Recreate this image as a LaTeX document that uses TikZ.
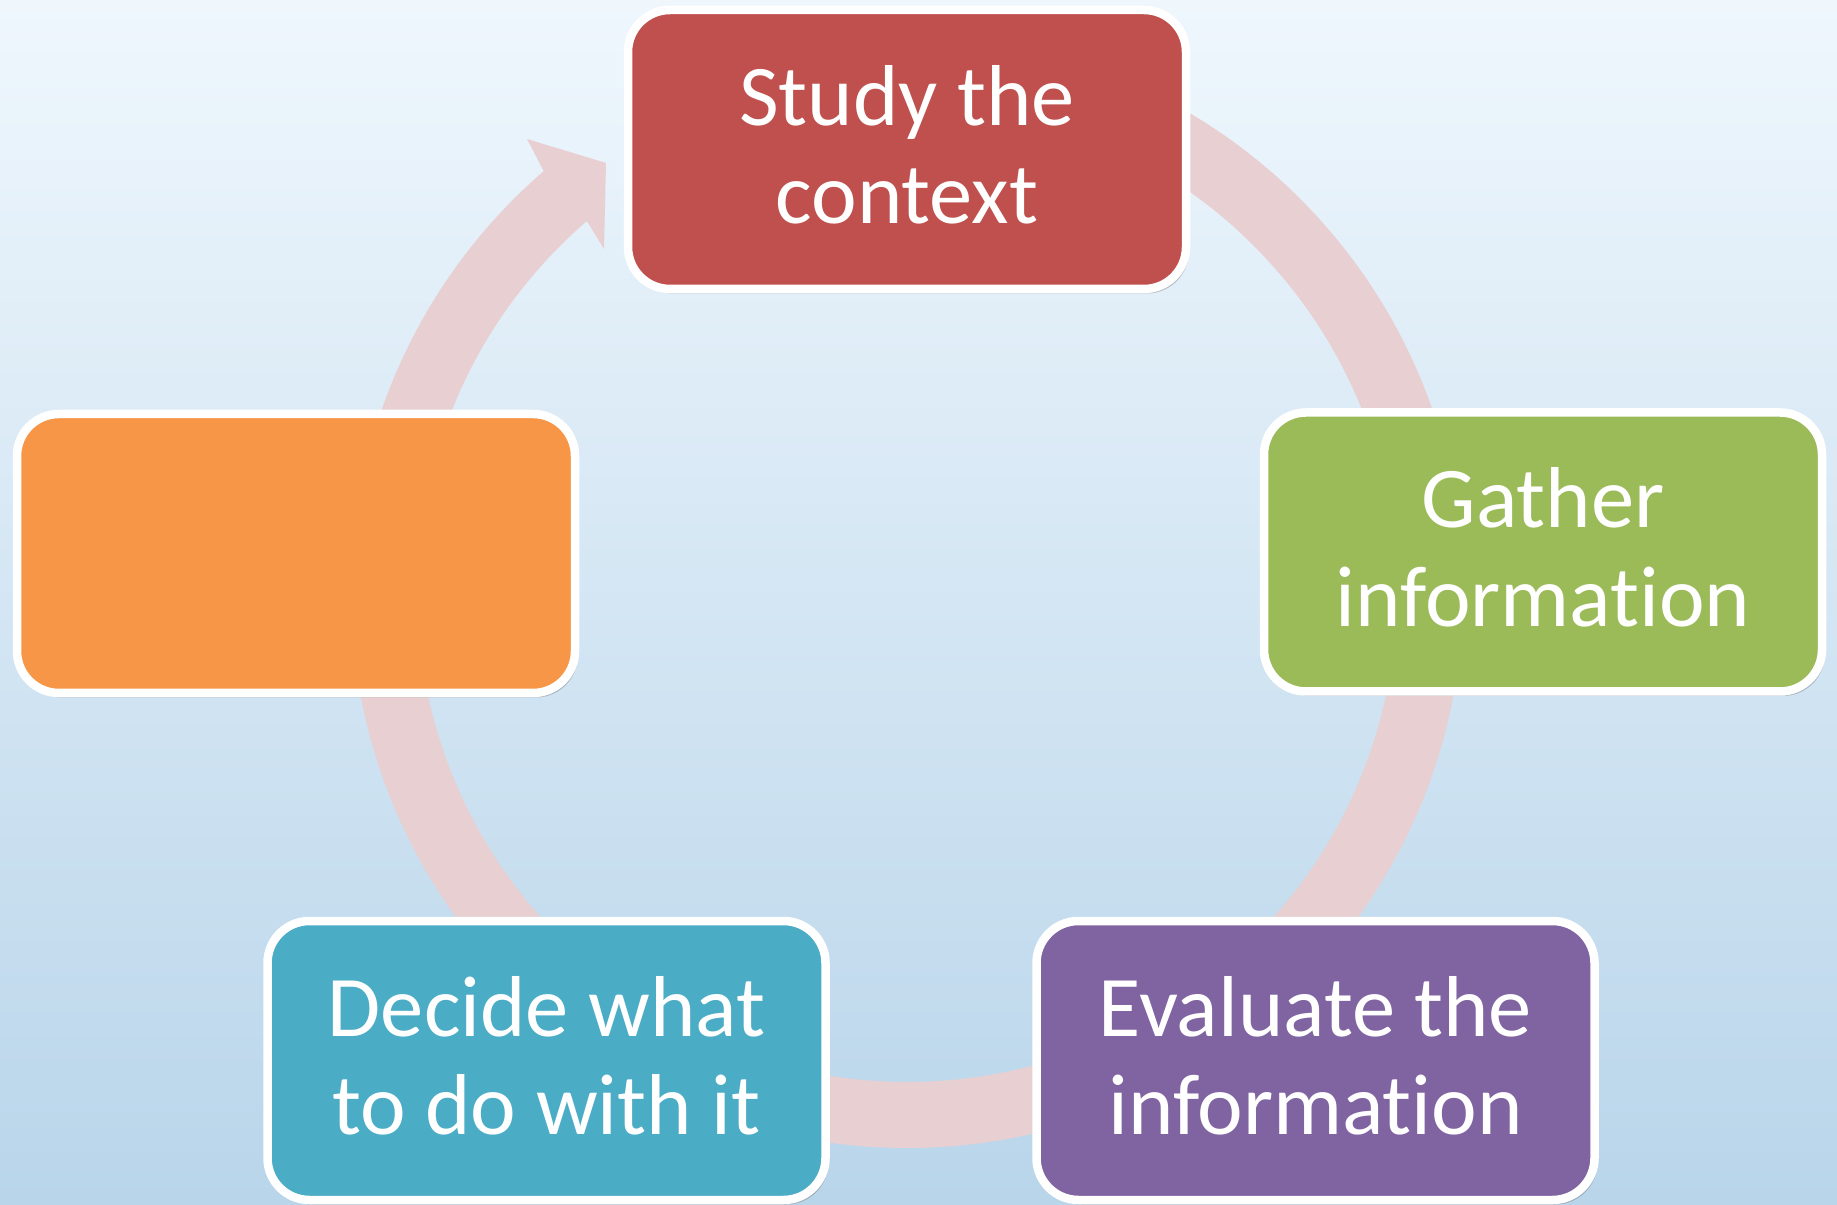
\documentclass[tikz,border=0pt]{standalone}
\usepackage{fontspec}
\setmainfont{Carlito}[Ligatures=CommonOff]
\usetikzlibrary{calc,shadows}
\definecolor{bgtop}{HTML}{EFF7FD}
\definecolor{bgbot}{HTML}{B9D5EA}
\definecolor{bandc}{HTML}{E8CFD1}
\definecolor{cred}{HTML}{C0504D}
\definecolor{cgreen}{HTML}{9BBB59}
\definecolor{corange}{HTML}{F79646}
\definecolor{cblue}{HTML}{4BACC6}
\definecolor{cpurple}{HTML}{8064A2}
\tikzset{
  stepbox/.style={rectangle, rounded corners=0.42cm, draw=white, line width=0.085cm,
    minimum width=5.58cm, minimum height=2.79cm, text=white, align=center,
    font=\fontsize{24.6}{28}\selectfont, inner sep=0pt, text depth=0.1cm,
    drop shadow={shadow xshift=0.03cm, shadow yshift=-0.045cm, opacity=0.35, fill=black!60}},
  ring/.style={fill=bandc}
}
\begin{document}
\begin{tikzpicture}
\useasboundingbox (0,0) rectangle (18.37,-12.05);
\shade[top color=bgtop, bottom color=bgbot] (0,0) rectangle (18.37,-12.05);
\coordinate (C) at (9.07,-5.92);
\coordinate (barbout) at (5.27,-1.39);
\coordinate (tip) at (6.06,-1.63);
\coordinate (barbin) at (6.04,-2.49);
\fill[ring] ($(C)+(90:5.56)$) arc[start angle=90, end angle=-229.2, radius=5.56]
  -- (barbout) -- (tip) -- (barbin)
  -- ($(C)+(130.8:4.90)$) arc[start angle=-229.2, end angle=90, radius=4.90] -- cycle;
\node[stepbox, fill=cred] (study) at (9.07,-1.495) {Study the\\context};
\node[stepbox, fill=cgreen] (gather) at (15.43,-5.52) {Gather\\information};
\node[stepbox, fill=cpurple] (evaluate) at (13.155,-10.605) {Evaluate the\\information};
\node[stepbox, fill=cblue] (decide) at (5.465,-10.605) {Decide what\\to do with it};
\node[stepbox, fill=corange] (blank) at (2.96,-5.535) {};
\end{tikzpicture}
\end{document}
